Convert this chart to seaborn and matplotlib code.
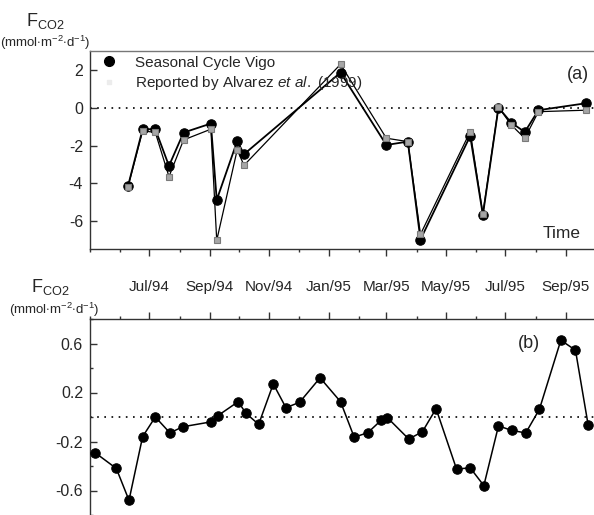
import matplotlib
matplotlib.use("Agg")
import matplotlib.pyplot as plt
import matplotlib.dates as mdates
from matplotlib.lines import Line2D
import seaborn as sns
import pandas as pd

# ---------------- data ----------------
top_dates = ["1994-06-09", "1994-06-24", "1994-07-07", "1994-07-21", "1994-08-05",
             "1994-09-02", "1994-09-08", "1994-09-29", "1994-10-06", "1995-01-13",
             "1995-03-01", "1995-03-23", "1995-04-05", "1995-05-26", "1995-06-08",
             "1995-06-24", "1995-07-07", "1995-07-21", "1995-08-04", "1995-09-22"]
vigo_flux = [-4.15, -1.13, -1.13, -3.08, -1.31, -0.83, -4.89, -1.76, -2.46, 1.88,
             -1.97, -1.79, -7.00, -1.49, -5.69, 0.02, -0.78, -1.28, -0.12, 0.25]
alvarez_flux = [-4.19, -1.22, -1.30, -3.65, -1.70, -1.13, -7.04, -2.23, -3.05, 2.32,
                -1.61, -1.79, -6.72, -1.26, -5.62, 0.05, -0.90, -1.61, -0.20, -0.12]

bottom_dates = ["1994-05-06", "1994-05-28", "1994-06-10", "1994-06-24", "1994-07-07",
                "1994-07-22", "1994-08-04", "1994-09-02", "1994-09-09", "1994-09-30",
                "1994-10-08", "1994-10-21", "1994-11-05", "1994-11-18", "1994-12-02",
                "1994-12-23", "1995-01-13", "1995-01-27", "1995-02-10", "1995-02-24",
                "1995-03-02", "1995-03-24", "1995-04-07", "1995-04-21", "1995-05-12",
                "1995-05-26", "1995-06-09", "1995-06-24", "1995-07-08", "1995-07-22",
                "1995-08-05", "1995-08-27", "1995-09-11", "1995-09-24"]
bottom_flux = [-0.29, -0.42, -0.68, -0.16, 0.00, -0.13, -0.08, -0.04, 0.01, 0.125,
               0.03, -0.06, 0.27, 0.076, 0.12, 0.32, 0.125, -0.165, -0.128, -0.024,
               -0.005, -0.18, -0.12, 0.068, -0.425, -0.415, -0.56, -0.073, -0.11, -0.13,
               0.063, 0.627, 0.545, -0.065]

tick_dates = ["1994-07-01", "1994-09-01", "1994-11-01", "1995-01-01",
              "1995-03-01", "1995-05-01", "1995-07-01", "1995-09-01"]
tick_labels = ["Jul/94", "Sep/94", "Nov/94", "Jan/95", "Mar/95", "May/95", "Jul/95", "Sep/95"]
top_yticks = [-6, -4, -2, 0, 2]
bottom_yticks = [-0.6, -0.2, 0.2, 0.6]
bottom_yminor = [-0.8, -0.4, 0.0, 0.4, 0.8]

series_names = ["Seasonal Cycle Vigo", r"Reported by Alvarez $\mathit{et\ al.}$ (1999)"]

# ---------------- style ----------------
sns.set_style("ticks")
plt.rcParams["font.family"] = ["Liberation Sans", "DejaVu Sans"]
plt.rcParams["mathtext.fontset"] = "custom"
plt.rcParams["mathtext.rm"] = "Liberation Sans"
plt.rcParams["mathtext.it"] = "Liberation Sans:italic"
plt.rcParams["mathtext.bf"] = "Liberation Sans:bold"

W, H = 594, 515
fig = plt.figure(figsize=(W / 100, H / 100), dpi=100)
fig.patch.set_facecolor("white")

xmin = pd.Timestamp("1994-05-01")
xmax = pd.Timestamp("1995-09-30")

ax1 = fig.add_axes([90 / W, 1 - 249 / H, 1 - 90 / W, (249 - 51.5) / H])
ax2 = fig.add_axes([90 / W, 0.0, 1 - 90 / W, (515 - 319) / H])

td = pd.to_datetime(top_dates)
bd = pd.to_datetime(bottom_dates)

# top panel
sns.lineplot(x=td, y=vigo_flux, ax=ax1, color="black", lw=1.3, marker="o",
             markersize=6.8, markeredgecolor="black", sort=False, zorder=3)
sns.lineplot(x=td, y=alvarez_flux, ax=ax1, color="black", lw=0.9, marker="s",
             markersize=4.5, markerfacecolor="#a6a6a6", markeredgecolor="#7a7a7a",
             markeredgewidth=0.8, sort=False, zorder=4)
ax1.axhline(0, color="black", lw=1.2, ls=(0, (1, 3.3)), zorder=1)
ax1.set_ylim(-7.5, 3)
ax1.set_yticks(top_yticks)
ax1.set_yticklabels([str(v) for v in top_yticks])

# bottom panel
sns.lineplot(x=bd, y=bottom_flux, ax=ax2, color="black", lw=1.1, marker="o",
             markersize=6.8, markeredgecolor="black", sort=False, zorder=3)
ax2.axhline(0, color="black", lw=1.2, ls=(0, (1, 3.3)), zorder=1)
ax2.set_ylim(-0.8, 0.8)
ax2.set_yticks(bottom_yticks)
ax2.set_yticklabels([f"{v:g}" for v in bottom_yticks])
ax2.set_yticks(bottom_yminor, minor=True)

for ax in (ax1, ax2):
    ax.set_xlim(xmin, xmax)
    ax.set_xticks(pd.to_datetime(tick_dates))
    ax.xaxis.set_minor_locator(mdates.MonthLocator())
    ax.set_xlabel("")
    ax.set_ylabel("")
    ax.spines["right"].set_visible(False)
    for s in ax.spines.values():
        s.set_color("#333333")
        s.set_linewidth(1.0)
    ax.tick_params(axis="y", which="major", direction="in", length=5, width=1,
                   color="#333333", labelsize=11.5, pad=5)
    ax.tick_params(axis="y", which="minor", direction="in", length=2.5, width=1,
                   color="#333333")
    ax.tick_params(axis="x", which="major", direction="out", length=5, width=1,
                   color="#333333")
    ax.tick_params(axis="x", which="minor", direction="out", length=2, width=1,
                   color="#333333")
    if ax.get_legend() is not None:
        ax.get_legend().remove()

ax1.spines["top"].set_color("#777777")
ax1.tick_params(axis="x", which="both", bottom=True, top=False,
                labelbottom=False, labeltop=False)
ax2.spines["bottom"].set_visible(False)
ax2.tick_params(axis="x", which="both", bottom=False, top=True,
                labelbottom=False, labeltop=True, labelsize=11, pad=13)
ax2.set_xticklabels(tick_labels)

# legend
handles = [Line2D([], [], color="none", marker="o", markersize=7,
                  markerfacecolor="black", markeredgecolor="black"),
           Line2D([], [], color="none", marker="s", markersize=2.5,
                  markerfacecolor="#ececec", markeredgecolor="#ececec")]
ax1.legend(handles, series_names, loc="upper left", frameon=False, fontsize=11,
           handlelength=1.0, handletextpad=1.2, labelspacing=0.3,
           borderaxespad=0.2, bbox_to_anchor=(0.004, 1.025))

# annotations
fig.text(578 / W, 1 - 74.5 / H, "(a)", ha="center", va="center", fontsize=13)
fig.text(529 / W, 1 - 343 / H, "(b)", ha="center", va="center", fontsize=13)
fig.text(562 / W, 1 - 234 / H, "Time", ha="center", va="center", fontsize=12.5)

ylab_main = r"F$_{\mathregular{CO2}}$"
ylab_unit = r"(mmol$\cdot$m$^{-2}$$\cdot$d$^{-1}$)"
fig.text(45 / W, 1 - 21 / H, ylab_main, ha="center", va="center", fontsize=13)
fig.text(45 / W, 1 - 43 / H, ylab_unit, ha="center", va="center", fontsize=9.5)
fig.text(50 / W, 1 - 287 / H, ylab_main, ha="center", va="center", fontsize=13)
fig.text(54 / W, 1 - 310 / H, ylab_unit, ha="center", va="center", fontsize=9.5)

fig.savefig("out.png", dpi=100)
